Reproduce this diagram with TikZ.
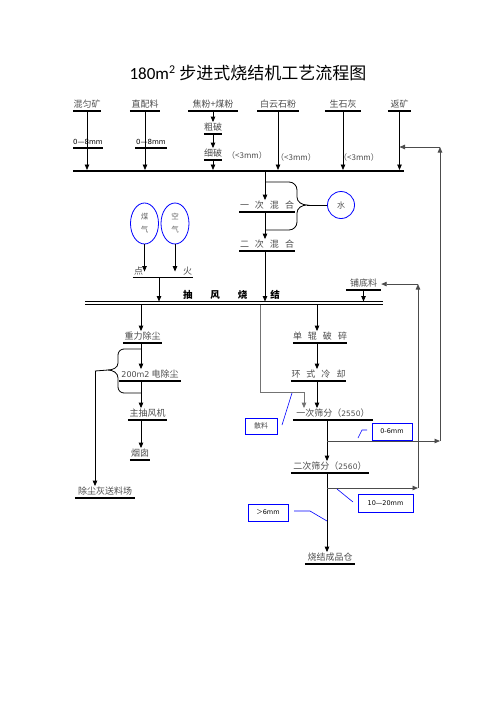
\documentclass[tikz,border=0pt]{standalone}
\usepackage{fontspec}
\setmainfont{Noto Sans CJK SC}
\newfontfamily\cjk{Noto Sans CJK SC}
\newfontfamily\lat{DejaVu Sans}
\newfontfamily\ttlfont{Carlito}
\usetikzlibrary{arrows.meta, shapes.geometric}
\tikzset{
lab/.style={
    inner xsep=0pt,
    inner ysep=1.5pt,
    text height=7pt,
    text depth=1.5pt,
    anchor=south,
    text=black!70,
    font=\fontsize{9}{10}\selectfont
},
small/.style={
    font=\lat\fontsize{7}{8}\selectfont,
    text=black
},
note/.style={
    inner sep=0pt,
    text=black!70,
    font=\fontsize{8}{9}\selectfont
},
ul/.style={line width=1.6pt},
bus/.style={line width=2.4pt},
flow/.style={->, line width=0.8pt},
back/.style={->, line width=0.8pt, draw=black!70},
tag/.style={
    rectangle,
    draw=blue,
    line width=0.9pt,
    inner sep=0pt,
    minimum height=17pt,
    font=\lat\fontsize{6.5}{7}\selectfont
},
lead/.style={draw=blue, line width=0.6pt},
src/.style={
    ellipse,
    draw=blue,
    line width=0.8pt,
    minimum width=28pt,
    minimum height=41pt,
    inner sep=0pt,
    align=center,
    text=black!60,
    font=\fontsize{7.5}{13}\selectfont
}}

\begin{document}
\begin{tikzpicture}[
        x=1pt, y=-1pt,
        >={Triangle[length=5.5pt, width=4.5pt]}
    ]
    \useasboundingbox (0,0) rectangle (496,702);

    % title
    \node[font=\fontsize{17}{20}\selectfont] (title) at (248,73)
        {{\ttlfont 180m\textsuperscript{2}} 步进式烧结机工艺流程图};

    % raw materials
    \node[lab, minimum width=27pt] (hy) at (87,111) {混匀矿};
    \node[lab, minimum width=30pt] (zp) at (145,111) {直配料};
    \node[lab, minimum width=49pt] (jf) at (213,111) {焦粉+煤粉};
    \node[lab, minimum width=41pt] (by) at (278,111) {白云石粉};
    \node[lab, minimum width=36pt] (sh) at (343,111) {生石灰};
    \node[lab, minimum width=23pt] (fk) at (399.5,111) {返矿};

    \node[lab, minimum width=18pt] (cp) at (213,134) {粗破};
    \node[lab, minimum width=18pt] (xp) at (213,160) {细破};

    \node[lab, small, minimum width=27pt] (g1) at (88,148) {0—8mm};
    \node[lab, small, minimum width=31pt] (g2) at (151,148) {0—8mm};

    \node[note] (n1) at (247,155) {（<3mm）};
    \node[note] (n2) at (296,157) {（<3mm）};
    \node[note] (n3) at (359,157) {（<3mm）};

    % collecting bar
    \coordinate (m1) at (73,171);
    \coordinate (m2) at (404,171);
    \draw[bus] (m1) -- (m2);

    \foreach \n in {hy, zp, by, sh, fk}
        \draw[flow, shorten >=1pt] (\n.south) -- (\n.south |- m1);
    \draw[flow] (jf.south) -- (cp.north);
    \draw[flow] (cp.south) -- (xp.north);
    \draw[flow, shorten >=1pt] (xp.south) -- (xp.south |- m1);

    % mixing
    \coordinate (t1) at (265,171);
    \node[lab, minimum width=55pt] (h1) at (267,212) {一\hspace{6pt}次\hspace{6pt}混\hspace{6pt}合};
    \node[lab, minimum width=55pt] (h2) at (267,251) {二\hspace{6pt}次\hspace{6pt}混\hspace{6pt}合};
    \node[circle, draw=blue, line width=0.8pt, minimum size=27pt, inner sep=0pt,
          text=black!70, font=\fontsize{8}{9}\selectfont] (water) at (341,205) {水};

    \draw[flow] (t1) -- (t1 |- h1.north);
    \draw[flow] (h1.south -| t1) -- (t1 |- h2.north);

    \coordinate (bt) at (307,205);
    \draw[line width=0.8pt] (266,182) -- (289,182) to[out=0, in=90] (297,190) -- (297,197)
        to[out=-90, in=180] (bt) to[out=180, in=90] (297,213) -- (297,222)
        to[out=-90, in=0] (289,230) -- (266,230);
    \draw[line width=0.8pt] (bt) -- (water);

    % ignition
    \node[src] (mq) at (144.5,223.5) {煤\\气};
    \node[src] (kq) at (175,223.5) {空\\气};
    \node[lab, minimum width=60pt] (dh) at (163,277.5) {点\hspace{40pt}火};
    \draw[flow] (mq.south) -- (mq.south |- dh.center);
    \draw[flow] (kq.south) -- (kq.south |- dh.center);

    % sintering bar
    \coordinate (s1) at (85,303);
    \coordinate (s2) at (383,303);
    \draw[line width=0.7pt, double distance=2.2pt] (s1) -- (s2);
    \node[anchor=south, inner sep=1pt, font=\bfseries\fontsize{9.5}{10}\selectfont] (cf)
        at (231.5,301) {抽\hspace{18pt}风\hspace{18pt}烧\hspace{23pt}结};

    \coordinate (d1) at (159,301.5);
    \node[lab, minimum width=35pt] (pd) at (363.5,290) {铺底料};
    \draw[flow] (dh.south -| d1) -- (d1);
    \draw[flow] (h2.south -| t1) -- (t1 |- d1);
    \draw[flow] (pd.south) -- (pd.south |- d1);

    % dust line
    \coordinate (u1) at (141,304.5);
    \node[lab, minimum width=39pt] (gl) at (142.5,343) {重力除尘};
    \node[lab, minimum width=62pt] (dc) at (150,381) {{\lat\fontsize{8}{9}\selectfont 200m2} 电除尘};
    \node[lab, minimum width=39pt] (zc) at (147.5,420) {主抽风机};
    \node[lab, minimum width=20pt] (yc) at (140,460) {烟囱};
    \node[lab, minimum width=60pt] (cc) at (105,498) {除尘灰送料场};

    \draw[flow] (u1) -- (u1 |- gl.north);
    \draw[flow] (gl.south -| u1) -- (u1 |- dc.north);
    \draw[flow] (dc.south -| u1) -- (u1 |- zc.north);
    \draw[flow] (zc.south -| u1) -- (u1 |- yc.north);

    \coordinate (bt2) at (95,371);
    \draw[line width=0.8pt] (141,349) -- (124,349) to[out=180, in=90] (118,355) -- (118,363)
        to[out=-90, in=0] (108,370) -- (bt2);
    \draw[line width=0.8pt] (108,370) to[out=0, in=90] (118,378) -- (118,387)
        to[out=-90, in=180] (124,393) -- (141,393);
    \draw[flow] (bt2) -- (bt2 |- cc.north);

    % product line
    \coordinate (u2) at (317,304.5);
    \node[lab, minimum width=54pt] (dg) at (320,343) {单\hspace{6pt}辊\hspace{6pt}破\hspace{6pt}碎};
    \node[lab, minimum width=55pt] (hs) at (318.5,381) {环\hspace{6pt}式\hspace{6pt}冷\hspace{6pt}却};
    \node[lab, minimum width=80pt] (sf1) at (333,420) {一次筛分（{\lat\fontsize{7.5}{8}\selectfont 2550}）};
    \node[lab, minimum width=78pt] (sf2) at (330,473) {二次筛分（{\lat\fontsize{7.5}{8}\selectfont 2560}）};
    \node[lab, minimum width=50pt] (cpc) at (330,564) {烧结成品仓};

    \draw[flow] (u2) -- (u2 |- dg.north);
    \draw[flow] (dg.south -| u2) -- (u2 |- hs.north);
    \draw[flow] (hs.south -| u2) -- (u2 |- sf1.north);

    \coordinate (u3) at (260,304.5);
    \coordinate (k1) at (260,392);
    \coordinate (k2) at (304,392);
    \draw[flow, draw=black!55] (u3) -- (k1) -- (k2) -- (k2 |- sf1.north);

    \coordinate (c1) at (327,441);
    \coordinate (c2) at (327,488);
    \draw[flow] (sf1.south -| c1) -- (c1 |- sf2.north);
    \draw[flow] (sf2.south -| c1) -- (c1 |- cpc.north);

    % returns
    \coordinate (r1) at (440,441);
    \coordinate (r1t) at (440,147);
    \draw[back] (c1) -- (r1);
    \draw[back] (r1) -- (r1t);
    \draw[back] (r1t) -- (fk.south |- r1t);

    \coordinate (r2) at (418,488);
    \coordinate (r2t) at (r2 |- pd.east);
    \draw[back] (c2) -- (r2);
    \draw[back] (r2) -- (r2t);
    \draw[back] (r2t) -- (pd.east);

    % size tags
    \node[tag, minimum width=32pt, minimum height=16pt, text=black!70,
          font=\fontsize{7}{8}\selectfont] (sl) at (261,426) {散料};
    \node[tag, minimum width=40pt] (t06) at (392,431.5) {0-6mm};
    \node[tag, minimum width=55pt, minimum height=18pt] (t1020) at (385.5,503) {10—20mm};
    \node[tag, minimum width=40pt] (t6) at (268,512.5) {{\cjk ＞}6mm};

    \coordinate (sl1) at (282,425);
    \coordinate (sl2) at (292,393);
    \draw[lead] (sl1) -- (sl2);
    \coordinate (q1) at (358,438);
    \coordinate (q2) at (362,430);
    \coordinate (q3) at (367,430);
    \draw[lead] (q1) -- (q2) -- (q3);
    \coordinate (w1) at (337,489);
    \coordinate (w2) at (353,502);
    \draw[lead] (w1) -- (w2);
    \coordinate (z1) at (294,511);
    \coordinate (z2) at (310,511);
    \coordinate (z3) at (327,521);
    \draw[lead] (z1) -- (z2) -- (z3);

    % underlines
    \foreach \n in {hy, zp, jf, by, sh, fk, cp, xp, g1, g2, h1, h2, dh, pd,
                    gl, dc, zc, yc, cc, dg, hs, sf1, sf2, cpc}
        \draw[ul] (\n.south west) -- (\n.south east);

\end{tikzpicture}
\end{document}
